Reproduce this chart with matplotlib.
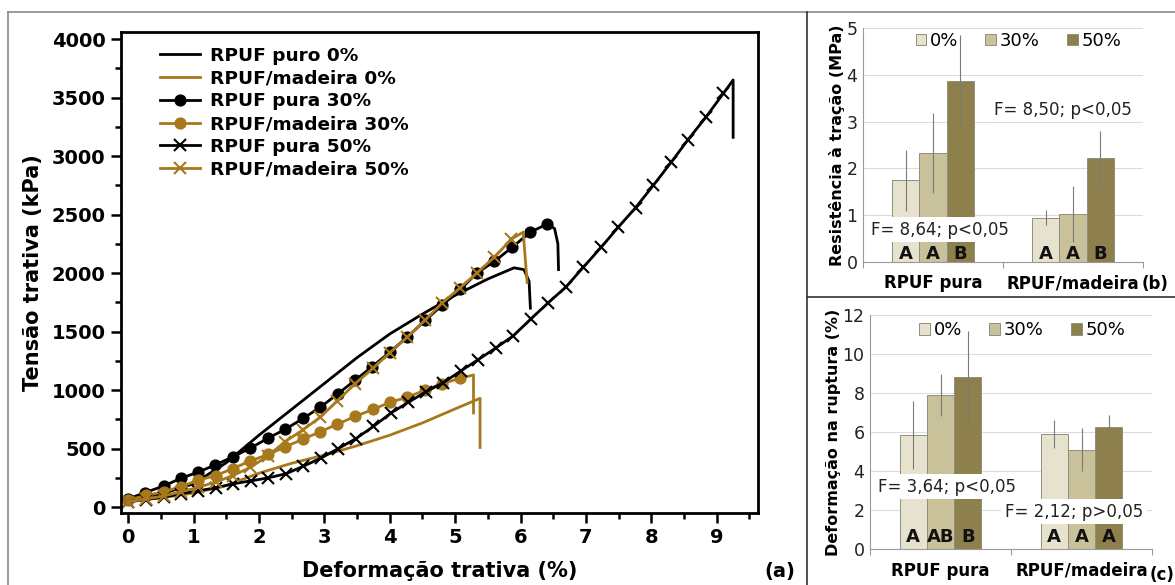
import matplotlib
matplotlib.use("Agg")
import matplotlib.pyplot as plt
from matplotlib.lines import Line2D
from matplotlib.ticker import MultipleLocator
import numpy as np

plt.rcParams['font.family'] = ['DejaVu Sans']

# ---------------- data: panel (a) stress-strain curves ----------------
pura0_x = [0, 0.5, 1, 1.5, 2, 2.5, 3, 3.5, 4, 4.5, 5, 5.5, 5.9, 6.05, 6.13, 6.15]
pura0_y = [50, 110, 200, 380, 615, 836, 1057, 1278, 1480, 1650, 1810, 1950, 2045, 2030, 1930, 1700]

mad0_x = [0, 0.5, 1, 1.5, 2, 2.5, 3, 3.5, 4, 4.5, 5, 5.38, 5.38]
mad0_y = [50, 80, 120, 185, 290, 375, 445, 525, 615, 720, 840, 930, 510]

pura30_x = [0, 0.26, 0.54, 0.8, 1.07, 1.33, 1.6, 1.87, 2.14, 2.4, 2.68, 2.94, 3.21, 3.47,
            3.73, 4.0, 4.26, 4.54, 4.8, 5.08, 5.33, 5.6, 5.87, 6.15, 6.41]
pura30_y = [70, 125, 180, 245, 300, 360, 430, 505, 590, 665, 760, 855, 970, 1085,
            1200, 1325, 1450, 1595, 1725, 1860, 2000, 2100, 2220, 2350, 2420]
pura30_tail_x = [6.52, 6.57, 6.58]
pura30_tail_y = [2380, 2250, 2030]

mad30_x = [0, 0.27, 0.54, 0.8, 1.07, 1.34, 1.6, 1.87, 2.14, 2.4, 2.67, 2.94, 3.2, 3.47,
           3.74, 4.0, 4.27, 4.54, 4.8, 5.07]
mad30_y = [60, 100, 130, 175, 230, 270, 330, 395, 450, 515, 580, 645, 710, 775,
           835, 895, 940, 1000, 1055, 1100]
mad30_tail_x = [5.28, 5.28]
mad30_tail_y = [1130, 805]

pura50_x = [0, 0.27, 0.54, 0.81, 1.07, 1.34, 1.61, 1.88, 2.14, 2.41, 2.68, 2.95, 3.21, 3.48,
            3.75, 4.02, 4.28, 4.55, 4.82, 5.09, 5.35, 5.62, 5.89, 6.16, 6.42, 6.69, 6.96,
            7.23, 7.49, 7.76, 8.03, 8.3, 8.56, 8.83, 9.1]
pura50_y = [45, 65, 85, 115, 140, 165, 200, 225, 250, 285, 350, 420, 500, 585,
            690, 805, 895, 985, 1065, 1165, 1260, 1360, 1465, 1610, 1745, 1880, 2050,
            2220, 2390, 2560, 2750, 2945, 3140, 3330, 3535]
pura50_tail_x = [9.25, 9.25]
pura50_tail_y = [3650, 3160]

mad50_x = [0, 0.27, 0.54, 0.8, 1.07, 1.34, 1.6, 1.87, 2.14, 2.4, 2.67, 2.94, 3.2, 3.47,
           3.74, 4.0, 4.27, 4.54, 4.8, 5.07, 5.33, 5.6, 5.86]
mad50_y = [45, 70, 95, 130, 170, 215, 270, 340, 440, 560, 660, 770, 910, 1055,
           1185, 1320, 1453, 1598, 1744, 1872, 2000, 2137, 2290]
mad50_tail_x = [6.04, 6.1]
mad50_tail_y = [2350, 1920]

labels_a = ['RPUF puro 0%', 'RPUF/madeira 0%', 'RPUF pura 30%',
            'RPUF/madeira 30%', 'RPUF pura 50%', 'RPUF/madeira 50%']

# ---------------- data: panels (b) and (c) ----------------
groups = ['RPUF pura', 'RPUF/madeira']
levels = ['0%', '30%', '50%']
tensile = {'0%': [1.75, 0.95], '30%': [2.33, 1.03], '50%': [3.87, 2.22]}
tensile_err = {'0%': [0.65, 0.17], '30%': [0.85, 0.60], '50%': [0.97, 0.58]}
tensile_letters = {'0%': ['A', 'A'], '30%': ['A', 'A'], '50%': ['B', 'B']}
tensile_stats = ['F= 8,64; p<0,05', 'F= 8,50; p<0,05']

strain = {'0%': [5.85, 5.9], '30%': [7.9, 5.1], '50%': [8.83, 6.28]}
strain_err = {'0%': [1.75, 0.72], '30%': [1.1, 1.1], '50%': [2.33, 0.58]}
strain_letters = {'0%': ['A', 'A'], '30%': ['AB', 'A'], '50%': ['B', 'A']}
strain_stats = ['F= 3,64; p<0,05', 'F= 2,12; p>0,05']

GOLD = '#a8781c'
BLACK = '#000000'
bar_colors = {'0%': '#e6e2cd', '30%': '#c9c199', '50%': '#8d804c'}

W, H = 1175, 585
fig = plt.figure(figsize=(W / 100, H / 100), dpi=100)

def fx(px):
    return px / W

def fy(py):
    return 1 - py / H

# ---------------- panel (a) ----------------
ax = fig.add_axes([fx(121), fy(513), fx(758) - fx(121), fy(32) - fy(513)])
lw = 2.0
ax.plot(pura0_x, pura0_y, color=BLACK, lw=lw, label=labels_a[0])
ax.plot(mad0_x, mad0_y, color=GOLD, lw=lw, label=labels_a[1])
ax.plot(pura30_x + pura30_tail_x, pura30_y + pura30_tail_y, color=BLACK, lw=lw,
        marker='o', ms=7.8, markevery=list(range(len(pura30_x))), label=labels_a[2])
ax.plot(mad30_x + mad30_tail_x, mad30_y + mad30_tail_y, color=GOLD, lw=lw,
        marker='o', ms=7.8, markevery=list(range(len(mad30_x))), label=labels_a[3])
ax.plot(pura50_x + pura50_tail_x, pura50_y + pura50_tail_y, color=BLACK, lw=lw,
        marker='x', ms=8.5, mew=1.5, markevery=list(range(len(pura50_x))), label=labels_a[4])
ax.plot(mad50_x + mad50_tail_x, mad50_y + mad50_tail_y, color=GOLD, lw=lw,
        marker='x', ms=8.5, mew=1.5, markevery=list(range(len(mad50_x))), label=labels_a[5])

ax.set_xlim(-0.11, 9.63)
ax.set_ylim(-50, 4060)
ax.xaxis.set_major_locator(MultipleLocator(1))
ax.xaxis.set_minor_locator(MultipleLocator(0.5))
ax.yaxis.set_major_locator(MultipleLocator(500))
ax.yaxis.set_minor_locator(MultipleLocator(250))
ax.tick_params(which='major', direction='out', length=7, width=1.8, labelsize=14, pad=4)
ax.tick_params(which='minor', direction='out', length=4, width=1.8)
for lab in ax.get_xticklabels() + ax.get_yticklabels():
    lab.set_fontweight('bold')
for sp in ax.spines.values():
    sp.set_linewidth(2)
ax.set_xlabel('Deformação trativa (%)', fontsize=15, fontweight='bold', labelpad=10)
ax.set_ylabel('Tensão trativa (kPa)', fontsize=15, fontweight='bold', labelpad=6)
leg = ax.legend(loc='upper left', bbox_to_anchor=(0.05, 0.985), frameon=False,
                prop={'weight': 'bold', 'size': 13.3}, handlelength=2.15,
                handletextpad=0.55, labelspacing=0.26, borderaxespad=0)
fig.text(fx(780), fy(572), '(a)', fontsize=14, fontweight='bold', ha='center', va='center')

# ---------------- bar panels ----------------
def bar_panel(rect, data, err, letters, stats, ylim, ystep, ylabel, letter_y,
              stat_pos, leg_pos):
    bx = fig.add_axes(rect)
    xs = np.arange(len(groups))
    width = 0.193
    for i, lv in enumerate(levels):
        off = (i - 1) * width
        bx.bar(xs + off, data[lv], width=width, color=bar_colors[lv],
               edgecolor='#8f8f80', linewidth=0.7, label=lv, zorder=2)
        bx.errorbar(xs + off, data[lv], yerr=err[lv], fmt='none',
                    ecolor='#7a7a7a', elinewidth=0.8, capsize=0, zorder=3)
        for g in range(len(groups)):
            bx.text(xs[g] + off, letter_y, letters[lv][g], ha='center', va='center',
                    fontsize=13, fontweight='bold', color='#111111', zorder=5)
    for g in range(len(groups)):
        sx, sy = stat_pos[g]
        bx.text(sx, sy, stats[g], ha='center', va='center', fontsize=12, zorder=4,
                color='#222222',
                bbox=dict(facecolor='white', edgecolor='none', pad=2.5))
    bx.set_xlim(-0.5, 1.5)
    bx.set_ylim(*ylim)
    bx.yaxis.set_major_locator(MultipleLocator(ystep))
    bx.grid(axis='y', color='#dcdcdc', lw=0.8, zorder=0)
    bx.set_axisbelow(True)
    bx.set_xticks([-0.5, 0.5, 1.5], minor=False)
    bx.set_xticklabels(['', '', ''])
    bx.set_xticks(xs, minor=True)
    bx.set_xticklabels(groups, minor=True, fontsize=12, fontweight='bold')
    bx.tick_params(axis='x', which='minor', length=0, pad=9)
    bx.tick_params(axis='x', which='major', length=4, color='#9a9a9a', width=0.8)
    bx.tick_params(axis='y', length=0, labelsize=12.5, labelcolor='#222222', pad=4)
    for s in ['top', 'right']:
        bx.spines[s].set_visible(False)
    for s in ['left', 'bottom']:
        bx.spines[s].set_color('#9a9a9a')
        bx.spines[s].set_linewidth(0.8)
    bx.set_ylabel(ylabel, fontsize=11.5, fontweight='bold', labelpad=1)
    bx.legend(loc='center', bbox_to_anchor=leg_pos, ncol=3, frameon=False,
              fontsize=13, handlelength=0.6, handleheight=0.6,
              handletextpad=0.2, columnspacing=1.5, borderaxespad=0)
    return bx

bx = bar_panel([fx(863), fy(262), fx(1143) - fx(863), fy(28) - fy(262)],
               tensile, tensile_err, tensile_letters, tensile_stats,
               (0, 5), 1, 'Resistência à tração (MPa)', 0.17,
               [(0.05, 0.69), (0.93, 3.25)], (0.555, 0.945))
fig.text(fx(1155), fy(284), '(b)', fontsize=12, fontweight='bold', ha='center', va='center')

cx = bar_panel([fx(870), fy(549), fx(1152) - fx(870), fy(315) - fy(549)],
               strain, strain_err, strain_letters, strain_stats,
               (0, 12), 2, 'Deformação na ruptura (%)', 0.6,
               [(0.046, 3.18), (0.947, 1.9)], (0.54, 0.935))
fig.text(fx(1162), fy(575), '(c)', fontsize=12, fontweight='bold', ha='center', va='center')

# ---------------- page frame lines ----------------
frame = dict(transform=fig.transFigure, lw=1.2)
fig.add_artist(Line2D([fx(8), fx(1175)], [fy(12), fy(12)], color='#8a8a8a', **frame))
fig.add_artist(Line2D([fx(8), fx(8)], [fy(12), fy(585)], color='#8a8a8a', **frame))
fig.add_artist(Line2D([fx(807), fx(807)], [fy(12), fy(585)], color='#333333', **frame))
fig.add_artist(Line2D([fx(807), fx(1175)], [fy(297), fy(297)], color='#333333', **frame))

fig.savefig('out.png', dpi=100)
